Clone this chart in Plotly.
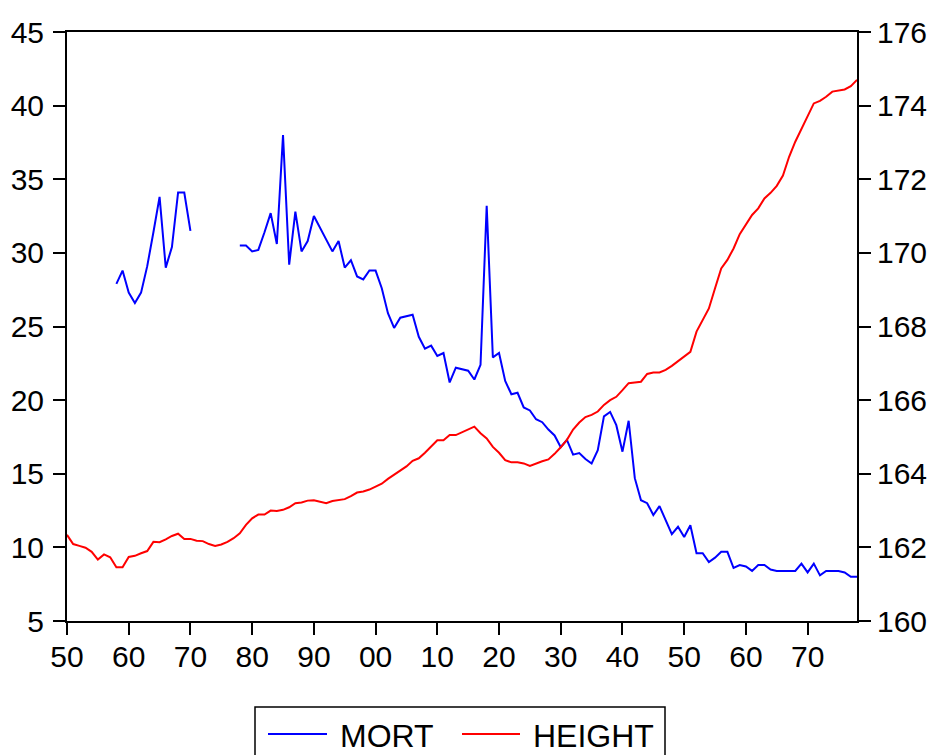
import plotly.graph_objects as go

years = list(range(1850, 1979))

mort = [
    None, None, None, None, None, None, None, None, 27.9, 28.8,
    27.3, 26.6, 27.3, 29.1, 31.4, 33.8, 29.0, 30.4, 34.1, 34.1,
    31.5, None, None, None, None, None, None, None, 30.5, 30.5,
    30.1, 30.2, 31.4, 32.7, 30.6, 38.0, 29.2, 32.8, 30.1, 30.8,
    32.5, 31.7, 30.9, 30.1, 30.8, 29.0, 29.5, 28.4, 28.2, 28.8,
    28.8, 27.6, 25.9, 24.9, 25.6, 25.7, 25.8, 24.3, 23.5, 23.7,
    23.0, 23.2, 21.2, 22.2, 22.1, 22.0, 21.4, 22.4, 33.2, 22.9,
    23.2, 21.3, 20.4, 20.5, 19.5, 19.3, 18.7, 18.5, 18.0, 17.6,
    16.8, 17.3, 16.3, 16.4, 16.0, 15.7, 16.6, 18.9, 19.2, 18.3,
    16.5, 18.6, 14.7, 13.2, 13.0, 12.2, 12.8, 11.9, 10.9, 11.4,
    10.7, 11.5, 9.6, 9.6, 9.0, 9.3, 9.7, 9.7, 8.6, 8.8,
    8.7, 8.4, 8.8, 8.8, 8.5, 8.4, 8.4, 8.4, 8.4, 8.9,
    8.3, 8.9, 8.1, 8.4, 8.4, 8.4, 8.3, 8.0, 8.0,
]

height = [
    162.34, 162.09, 162.04, 161.99, 161.88, 161.67, 161.81, 161.73, 161.46, 161.46,
    161.74, 161.77, 161.84, 161.90, 162.15, 162.14, 162.22, 162.31, 162.37, 162.23,
    162.23, 162.18, 162.17, 162.09, 162.04, 162.08, 162.15, 162.25, 162.38, 162.61,
    162.79, 162.89, 162.89, 163.00, 162.99, 163.02, 163.09, 163.20, 163.22, 163.27,
    163.28, 163.24, 163.20, 163.26, 163.29, 163.31, 163.39, 163.49, 163.52, 163.57,
    163.65, 163.73, 163.86, 163.97, 164.10, 164.20, 164.35, 164.42, 164.57, 164.73,
    164.91, 164.91, 165.05, 165.05, 165.13, 165.20, 165.28, 165.10, 164.96, 164.73,
    164.57, 164.37, 164.31, 164.31, 164.28, 164.21, 164.28, 164.34, 164.39, 164.54,
    164.72, 164.92, 165.20, 165.39, 165.54, 165.60, 165.69, 165.87, 166.00, 166.09,
    166.27, 166.46, 166.48, 166.50, 166.71, 166.75, 166.75, 166.82, 166.93, 167.06,
    167.18, 167.31, 167.86, 168.18, 168.49, 169.04, 169.58, 169.81, 170.12, 170.51,
    170.76, 171.03, 171.21, 171.48, 171.63, 171.82, 172.10, 172.61, 173.02, 173.38,
    173.73, 174.06, 174.13, 174.24, 174.38, 174.40, 174.44, 174.53, 174.70,
]

tick_years = [1850, 1860, 1870, 1880, 1890, 1900, 1910, 1920, 1930, 1940, 1950, 1960, 1970]
tick_labels = ["50", "60", "70", "80", "90", "00", "10", "20", "30", "40", "50", "60", "70"]
left_ticks = [5, 10, 15, 20, 25, 30, 35, 40, 45]
right_ticks = [160, 162, 164, 166, 168, 170, 172, 174, 176]
series_names = ["MORT", "HEIGHT"]
series_colors = ["#0000ff", "#ff0000"]

FONT = "Liberation Sans, Arial, sans-serif"
FS = 30
LFS = 32

fig = go.Figure()
fig.add_trace(go.Scatter(x=years, y=mort, name=series_names[0], mode="lines",
                         line=dict(color=series_colors[0], width=2), connectgaps=False,
                         showlegend=False))
fig.add_trace(go.Scatter(x=years, y=height, name=series_names[1], mode="lines", yaxis="y2",
                         line=dict(color=series_colors[1], width=2), showlegend=False))

axis_common = dict(showgrid=False, zeroline=False, showline=True, linecolor="black",
                   linewidth=2, ticks="outside", ticklen=12, tickwidth=1.5,
                   tickcolor="black", tickfont=dict(family=FONT, size=FS, color="black"))

# plot area in page pixels (page has 8px body margin)
PL, PR, PT, PB = 67, 857, 32, 621
def px_x(p):
    return (p - PL) / (PR - PL)
def px_y(p):
    return (PB - p) / (PB - PT)

shapes = [
    dict(type="rect", xref="paper", yref="paper",
         x0=px_x(255), x1=px_x(665), y0=px_y(707), y1=px_y(775),
         line=dict(color="black", width=1.5), fillcolor="white", layer="above"),
    dict(type="line", xref="paper", yref="paper",
         x0=px_x(268), x1=px_x(327), y0=px_y(734), y1=px_y(734),
         line=dict(color=series_colors[0], width=2)),
    dict(type="line", xref="paper", yref="paper",
         x0=px_x(462), x1=px_x(520), y0=px_y(734), y1=px_y(734),
         line=dict(color=series_colors[1], width=2)),
]
annotations = [
    dict(text=series_names[0], xref="paper", yref="paper", x=px_x(338), y=px_y(736),
         xanchor="left", yanchor="middle", showarrow=False,
         font=dict(family=FONT, size=LFS, color="black")),
    dict(text=series_names[1], xref="paper", yref="paper", x=px_x(531), y=px_y(736),
         xanchor="left", yanchor="middle", showarrow=False,
         font=dict(family=FONT, size=LFS, color="black")),
]

fig.update_layout(
    width=935, height=755,
    margin=dict(l=PL - 8, r=935 + 8 - PR, t=PT - 8, b=755 + 8 - PB),
    paper_bgcolor="white", plot_bgcolor="white",
    font=dict(family=FONT, size=FS, color="black"),
    xaxis=dict(range=[1850, 1978], tickvals=tick_years, ticktext=tick_labels,
               mirror=True, automargin=False, ticklabelstandoff=-4, **axis_common),
    yaxis=dict(range=[5, 45], tickvals=left_ticks,
               automargin=False, ticklabelstandoff=3, **axis_common),
    yaxis2=dict(range=[160, 176], tickvals=right_ticks,
                overlaying="y", side="right", automargin=False, ticklabelstandoff=0,
                **axis_common),
    shapes=shapes,
    annotations=annotations,
    showlegend=False,
)

fig.write_html("out.html")
